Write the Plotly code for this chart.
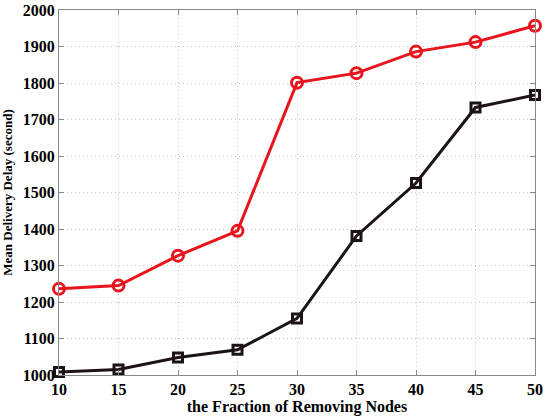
import plotly.graph_objects as go

fraction = [10, 15, 20, 25, 30, 35, 40, 45, 50]
delay_red = [1236, 1245, 1327, 1395, 1801, 1827, 1886, 1912, 1957]
delay_black = [1008, 1015, 1048, 1069, 1155, 1381, 1526, 1733, 1767]

font_serif = "Liberation Serif"

fig = go.Figure()
fig.add_trace(go.Scatter(
    x=fraction, y=delay_red, mode='lines+markers',
    line=dict(color='#e8141e', width=3),
    marker=dict(symbol='circle-open', size=11, color='#e8141e', line=dict(width=3)),
    showlegend=False, cliponaxis=False))
fig.add_trace(go.Scatter(
    x=fraction, y=delay_black, mode='lines+markers',
    line=dict(color='#1c1414', width=3),
    marker=dict(symbol='square-open', size=9, color='#1c1414', line=dict(width=3)),
    showlegend=False, cliponaxis=False))

axis_common = dict(
    showline=True, linecolor='#888888', linewidth=1, mirror='ticks',
    ticks='inside', ticklen=5, tickcolor='#888888',
    showgrid=True, gridcolor='#c4c4c4', griddash='1px,3px', gridwidth=1,
    zeroline=False, automargin=False,
    tickfont=dict(family=font_serif, size=16, color='black', weight='bold'),
)

fig.update_layout(
    width=550, height=418,
    margin=dict(l=59, r=15, t=10, b=43),
    plot_bgcolor='white', paper_bgcolor='white',
    font=dict(family=font_serif, color='black'),
    xaxis=dict(axis_common, range=[10, 50], tickvals=fraction,
               title=dict(text='the Fraction of Removing Nodes', standoff=0,
                          font=dict(family=font_serif, size=16, weight='bold'))),
    yaxis=dict(axis_common, range=[1000, 2000], dtick=100,
               title=dict(text='Mean Delivery Delay (second)', standoff=8,
                          font=dict(family=font_serif, size=13, weight='bold'))),
)

# page body has a default 8px margin; drop it so the figure sits at the corner
fig.write_html("out.html", config={'displayModeBar': False},
               post_script="document.body.style.margin='0';")
